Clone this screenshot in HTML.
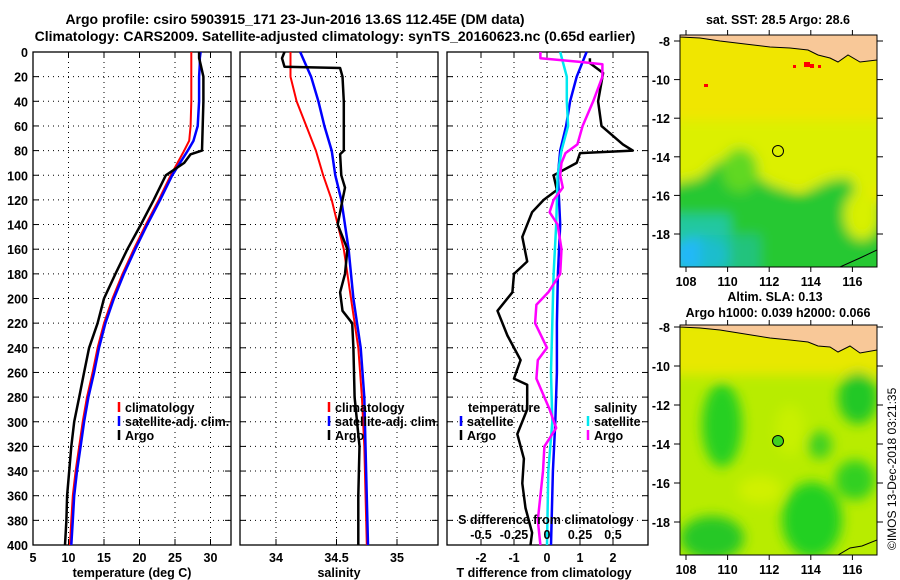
<!DOCTYPE html>
<html><head><meta charset="utf-8">
<style>
html,body{margin:0;padding:0;background:#fff;}
svg{display:block;font-family:"Liberation Sans",Arial,sans-serif;}
.b{font-weight:bold;font-size:12.5px;fill:#000;}
.t{font-weight:bold;font-size:14px;fill:#000;}
</style></head>
<body>
<svg id="c" width="900" height="580" viewBox="0 0 900 580">
<defs>
<filter id="bl" x="-20%" y="-20%" width="140%" height="140%"><feGaussianBlur stdDeviation="6"/></filter>
<clipPath id="cm1"><rect x="680" y="35" width="197" height="232"/></clipPath>
<clipPath id="cm2"><rect x="680" y="325" width="197" height="230"/></clipPath>
</defs>
<text class="t" x="295" y="24" text-anchor="middle">Argo profile: csiro 5903915_171 23-Jun-2016 13.6S 112.45E (DM data)</text>
<text class="t" x="335" y="41" text-anchor="middle">Climatology: CARS2009. Satellite-adjusted climatology: synTS_20160623.nc (0.65d earlier)</text>

<g>
<text class="b" x="778" y="24" text-anchor="middle">sat. SST: 28.5 Argo: 28.6</text>
<g clip-path="url(#cm1)">
<rect x="680" y="35" width="197" height="232" fill="#f0e600"/>
<g filter="url(#bl)">
<rect x="670" y="120" width="220" height="70" fill="#dcf000"/>
<path d="M670 185 L700 178 L720 160 L745 168 L770 185 L800 195 L830 180 L850 178 L860 200 L890 205 L890 280 L670 280Z" fill="#28c830"/>
<ellipse cx="740" cy="170" rx="18" ry="22" fill="#60d820"/>
<ellipse cx="862" cy="215" rx="18" ry="25" fill="#d8f000"/>
<rect x="670" y="215" width="60" height="60" fill="#20c8a0"/>
<ellipse cx="700" cy="255" rx="28" ry="18" fill="#20b8f8"/>
<rect x="700" y="235" width="60" height="40" fill="#20c0b0" opacity="0.6"/>
</g>
<rect x="804" y="62" width="6" height="5" fill="#f00"/><rect x="810" y="64" width="4" height="4" fill="#f00"/><rect x="793" y="65" width="3" height="3" fill="#f00"/><rect x="818" y="65" width="3" height="3" fill="#f00"/><rect x="704" y="84" width="4" height="3" fill="#f00"/>
<path d="M680 35 L877 35 L877 60 L860 62 L848 55 L838 62 L830 58 L818 55 L808 50 L790 48 L770 47 L745 44 L720 41 L700 38 L680 37Z" fill="#f8c898" stroke="#000" stroke-width="1"/>
<path d="M840 267 L860 258 L877 250" fill="none" stroke="#000" stroke-width="1"/>
</g>
<rect x="680" y="35" width="197" height="232" fill="none" stroke="#000" stroke-width="1"/>
<circle cx="778" cy="151" r="5.5" fill="none" stroke="#000" stroke-width="1"/>
</g>

<g>
<text class="b" x="775" y="301" text-anchor="middle">Altim. SLA: 0.13</text>
<text class="b" x="778" y="317" text-anchor="middle">Argo h1000: 0.039 h2000: 0.066</text>
<g clip-path="url(#cm2)">
<rect x="680" y="325" width="197" height="230" fill="#b8ec00"/>
<g filter="url(#bl)">
<rect x="670" y="320" width="220" height="55" fill="#e8e800"/>
<ellipse cx="722" cy="425" rx="20" ry="42" fill="#28d020"/>
<ellipse cx="858" cy="398" rx="20" ry="26" fill="#20c828"/>
<ellipse cx="820" cy="445" rx="12" ry="14" fill="#40d020"/>
<ellipse cx="712" cy="538" rx="32" ry="22" fill="#28c828"/>
<ellipse cx="812" cy="520" rx="30" ry="38" fill="#20d020"/>
<ellipse cx="855" cy="480" rx="20" ry="20" fill="#30d020"/>
<ellipse cx="760" cy="490" rx="22" ry="14" fill="#d0f000"/>
<ellipse cx="790" cy="430" rx="15" ry="25" fill="#c8f000"/>
</g>
<path d="M680 325 L877 325 L877 350 L860 353 L850 346 L838 352 L830 347 L818 346 L808 342 L790 340 L770 338 L745 334 L720 330 L700 328 L680 327Z" fill="#f8c898" stroke="#000" stroke-width="1"/>
<path d="M838 555 L850 548 L862 546 L877 540" fill="none" stroke="#000" stroke-width="1"/>
</g>
<rect x="680" y="325" width="197" height="230" fill="none" stroke="#000" stroke-width="1"/>
<circle cx="778" cy="441" r="5.5" fill="#40d020" stroke="#000" stroke-width="1"/>
</g>
<text x="896" y="550" transform="rotate(-90 896 550)" font-size="12" fill="#000">©IMOS 13-Dec-2018 03:21:35</text>
</svg>
<script>
// ---- data ----
var depths = [0,5,10,20,40,60,72,80,100,120,140,160,180,200,220,240,260,280,300,320,340,360,380,400];
var tempClim = [27.3,27.3,27.3,27.3,27.3,27.2,27.0,26.3,24.4,22.7,20.9,19.2,17.6,16.2,15.0,14.1,13.4,12.6,12.0,11.5,11.0,10.6,10.4,10.2];
var tempSat  = [28.6,28.5,28.5,28.4,28.4,28.2,27.6,26.8,24.6,22.9,21.1,19.4,17.8,16.4,15.2,14.3,13.6,12.8,12.2,11.7,11.2,10.8,10.6,10.4];
var tempArgoDepths = [0,5,10,20,40,60,80,83,90,100,120,140,160,180,200,220,240,260,280,300,320,340,360,380,400];
var tempArgo = [28.4,28.4,28.6,29.0,29.0,28.9,28.8,27.2,26.3,23.7,22.0,20.2,18.3,16.6,15.0,14.1,12.9,12.2,11.5,10.8,10.4,10.1,9.8,9.7,9.5];

var salDepths = [0,20,40,60,80,100,120,160,200,240,280,320,400];
var salClim = [34.12,34.12,34.17,34.25,34.33,34.39,34.46,34.56,34.62,34.68,34.71,34.73,34.75];
var salSat  = [34.20,34.29,34.35,34.40,34.46,34.49,34.54,34.60,34.64,34.70,34.73,34.74,34.76];
var salArgoDepths = [0,5,12,13,20,40,80,83,100,110,120,140,160,180,195,210,220,240,280,320,360,400];
var salArgo = [34.07,34.05,34.07,34.53,34.55,34.56,34.56,34.53,34.54,34.57,34.55,34.51,34.59,34.57,34.53,34.55,34.63,34.64,34.65,34.69,34.68,34.68];

var dTArgoDepths = [5,9,17,40,60,75,80,82,90,100,112,120,130,150,170,180,195,210,230,250,265,270,290,310,330,350,370,390,400];
var dTArgo = [1.3,1.3,1.7,1.55,1.65,2.3,2.6,1.0,0.9,0.2,0.3,-0.1,-0.45,-0.75,-0.6,-1.0,-1.05,-1.5,-1.2,-0.8,-1.0,-0.6,-0.6,-0.9,-0.7,-0.75,-0.65,-0.45,-0.5];
var dTSatDepths = [0,20,40,60,80,100,140,180,220,260,300,340,400];
var dTSat = [1.2,0.9,0.7,0.58,0.4,0.33,0.4,0.33,0.3,0.3,0.25,0.18,0.12];
var dSSat = [0.10,0.15,0.15,0.16,0.11,0.08,0.07,0.05,0.04,0.03,0.04,0.01,0.0];
var dSArgoDepths = [0,5,8,10,20,40,60,75,82,90,100,110,120,130,140,160,180,195,205,220,240,250,265,290,305,320,340,360,380,400];
var dSArgo = [-0.05,-0.05,0.25,0.42,0.42,0.35,0.27,0.23,0.14,0.11,0.10,0.12,0.05,0.02,0.08,0.11,0.10,0.01,-0.08,-0.09,0.0,-0.07,-0.08,0.02,0.07,-0.02,-0.03,-0.05,-0.07,-0.05];

var depthTicks = [0,20,40,60,80,100,120,140,160,180,200,220,240,260,280,300,320,340,360,380,400];
var tempTicks = [5,10,15,20,25,30];
var salTicks = [34,34.5,35];
var tTicks = [-2,-1,0,1,2];
var sTickLabels = ['-0.5','-0.25','0','0.25','0.5'];
var sTickVals = [-0.5,-0.25,0,0.25,0.5];
var lonTicks = [108,110,112,114,116];
var latTicks = [-8,-10,-12,-14,-16,-18];

// ---- scales ----
var Y0=52, Y1=545;
function yD(d){return Y0+(d/400)*(Y1-Y0);}
var P1={x0:33,x1:231}, P2={x0:240,x1:438}, P3={x0:447,x1:648};
function xT(t){return 33+(t-5)*7.1;}
function xS(s){return 276+(s-34)*121;}
function xDT(v){return 547+v*33;}
function xDS(v){return 547+v*132;}
function xLon(l){return 686+(l-108)*20.8;}
function yLat1(l){return 41+(-8-l)*19.3;}
function yLat2(l){return 327+(-8-l)*19.5;}

var svg=document.getElementById('c');
var NS='http://www.w3.org/2000/svg';
function mk(tag,attrs,parent){var e=document.createElementNS(NS,tag);for(var k in attrs)e.setAttribute(k,attrs[k]);(parent||svg).appendChild(e);return e;}
function txt(x,y,s,anchor,cls){var e=mk('text',{x:x,y:y,'text-anchor':anchor||'start','class':cls||'b'});e.textContent=s;return e;}

function frame(P,name){
  var g=mk('g',{});
  
  
  depthTicks.forEach(function(d){
    if(d>0&&d<400){var l=mk('line',{x1:P.x0,x2:P.x1,y1:yD(d),y2:yD(d),stroke:'#000','stroke-width':1,'stroke-dasharray':'1,4'},g);
    
    }
    mk('line',{x1:P.x0,x2:P.x0+6,y1:yD(d),y2:yD(d),stroke:'#000'},g);
    mk('line',{x1:P.x1-6,x2:P.x1,y1:yD(d),y2:yD(d),stroke:'#000'},g);
  });
  return g;
}
function vgrid(g,xs,P){xs.forEach(function(x){mk('line',{x1:x,x2:x,y1:Y0,y2:Y1,stroke:'#000','stroke-dasharray':'1,4'},g);mk('line',{x1:x,x2:x,y1:Y1-6,y2:Y1,stroke:'#000'},g);mk('line',{x1:x,x2:x,y1:Y0,y2:Y0+6,stroke:'#000'},g);});
  mk('rect',{x:P.x0,y:Y0,width:P.x1-P.x0,height:Y1-Y0,fill:'none',stroke:'#000','stroke-width':1.3},g);}
function line(xs,ds,xf,color,w,name){
  var pts=xs.map(function(v,i){return xf(v).toFixed(1)+','+yD(ds[i]).toFixed(1);}).join(' ');
  var e=mk('polyline',{points:pts,fill:'none',stroke:color,'stroke-width':w,'stroke-linejoin':'round'});
  
  
}
function legend(x,y,color,label){mk('line',{x1:x,x2:x,y1:y-10,y2:y,stroke:color,'stroke-width':2.5});var t=txt(x+6,y,label);}

depthTicks.forEach(function(d){var t=txt(28,yD(d)+5,String(d),'end');});

var g1=frame(P1,'temperature-panel');
vgrid(g1,tempTicks.filter(function(t){return t>5;}).map(xT),P1);
tempTicks.forEach(function(t){var e=txt(xT(t),562,String(t),'middle');});
var a1=txt(132,577,'temperature (deg C)','middle');
line(tempClim,depths,xT,'#f00',2,'temp-climatology-line');
line(tempSat,depths,xT,'#00f',2.5,'temp-satellite-line');
line(tempArgo,tempArgoDepths,xT,'#000',2.5,'temp-argo-line');
legend(119,412,'#f00','climatology');legend(119,426,'#00f','satellite-adj. clim.');legend(119,440,'#000','Argo');

var g2=frame(P2,'salinity-panel');
vgrid(g2,salTicks.map(xS),P2);
salTicks.forEach(function(t){var e=txt(xS(t),562,String(t),'middle');});
var a2=txt(339,577,'salinity','middle');
line(salClim,salDepths,xS,'#f00',2,'sal-climatology-line');
line(salSat,salDepths,xS,'#00f',2.5,'sal-satellite-line');
line(salArgo,salArgoDepths,xS,'#000',2.5,'sal-argo-line');
legend(329,412,'#f00','climatology');legend(329,426,'#00f','satellite-adj. clim.');legend(329,440,'#000','Argo');

var g3=frame(P3,'difference-panel');
vgrid(g3,tTicks.map(xDT),P3);
tTicks.forEach(function(t){var e=txt(xDT(t),562,String(t),'middle');});
var a3=txt(544,577,'T difference from climatology','middle');
line(dTArgo,dTArgoDepths,xDT,'#000',2.5,'tdiff-argo-line');
line(dTSat,dTSatDepths,xDT,'#00f',2.5,'tdiff-satellite-line');
line(dSSat,dTSatDepths,xDS,'#00e8f0',2.5,'sdiff-satellite-line');
line(dSArgo,dSArgoDepths,xDS,'#f0f',2.5,'sdiff-argo-line');
var s1=txt(546,524,'S difference from climatology','middle');
sTickVals.forEach(function(v,i){var e=txt(xDS(v),539,sTickLabels[i],'middle');});
var lt=txt(468,412,'temperature');
legend(461,426,'#00f','satellite');legend(461,440,'#000','Argo');
var ls=txt(594,412,'salinity');
legend(588,426,'#00e8f0','satellite');legend(588,440,'#f0f','Argo');

function mapAxes(yf,top,bot,name){
  latTicks.forEach(function(l){var y=yf(l);if(y<top||y>bot)return;
    mk('line',{x1:674,x2:680,y1:y,y2:y,stroke:'#000'});mk('line',{x1:877,x2:883,y1:y,y2:y,stroke:'#000'});
    var e=txt(670,y+5,String(l),'end');});
  lonTicks.forEach(function(l){var x=xLon(l);mk('line',{x1:x,x2:x,y1:bot,y2:bot+5,stroke:'#000'});mk('line',{x1:x,x2:x,y1:top-5,y2:top,stroke:'#000'});
    var e=txt(x,bot+19,String(l),'middle');});
}
mapAxes(yLat1,35,267,'sst-map');
mapAxes(yLat2,325,555,'sla-map');
</script>
</body></html>
